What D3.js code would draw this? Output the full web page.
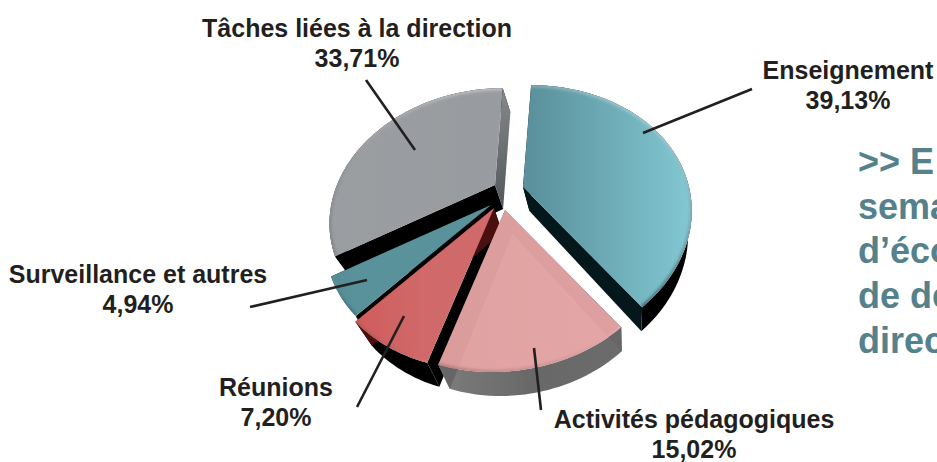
<!DOCTYPE html>
<html>
<head>
<meta charset="utf-8">
<script src="https://cdn.jsdelivr.net/npm/d3@7"></script>
<style>
html, body { margin: 0; padding: 0; background: #fff; overflow: hidden; }
text { font-family: "Liberation Sans", Arial, sans-serif; font-weight: bold; }
</style>
</head>
<body>
<div id="chart"></div>
<script>
const categories = ["Enseignement", "Activités pédagogiques", "Réunions", "Surveillance et autres", "Tâches liées à la direction"];
const shares = [39.13, 15.02, 7.20, 4.94, 33.71];
const noteLines = [">> E", "sema", "d’éco", "de de", "direc"];

const width = 937, height = 462;

// apex of each slice on the page, the pie is exploded
const apex = [[523, 187], [505, 210], [494, 208], [491, 205], [495, 185]];
const radii = [166, 162, 162, 158, 158];
const squash = 0.76, persp = 0.24, shear = -0.08;
const depthY = 24, vanishX = 630, vanishK = 0.06;

const style = [
    { top: ["#5a919c", "#82c8d3"], rim: ["#c5eef4", "#0f3a42"], outer: "#000", start: "#000", end: "#04181c" },
    { top: ["#e09e9e", "#e2a2a2"], rim: ["#e6aaaa", "#b07a7a"], outer: "url(#wallPink)", start: "#666", end: "#666" },
    { top: ["#d05c5c", "#d06a6a"], rim: ["#e08080", "#a04848"], outer: "#000", start: "#000", end: "#4a1010" },
    { top: ["#548a94", "#5a929c"], rim: ["#70a8b0", "#2f5f68"], outer: "#000", start: "#000", end: "#000" },
    { top: ["#9b9ea1", "#989b9f"], rim: ["#c4c7c9", "#808386"], outer: "#000", start: "#000", end: "url(#wallGray)" }
];

const svg = d3.select("#chart").append("svg")
    .attr("width", width)
    .attr("height", height);
const defs = svg.append("defs");

defs.append("filter").attr("id", "soft")
    .attr("x", "-10%").attr("y", "-10%").attr("width", "120%").attr("height", "120%")
    .append("feGaussianBlur").attr("stdDeviation", 1.6);

function addGradient(id, stops, x1, y1, x2, y2) {
    const g = defs.append("linearGradient").attr("id", id)
        .attr("gradientUnits", "userSpaceOnUse")
        .attr("x1", x1).attr("y1", y1).attr("x2", x2).attr("y2", y2);
    stops.forEach((c, i) => g.append("stop").attr("offset", i / (stops.length - 1)).attr("stop-color", c));
}
addGradient("wallPink", ["#7c7c7c", "#686868", "#6c6c6c"], 440, 0, 625, 0);
addGradient("wallGray", ["#868a8d", "#51575a"], 0, 85, 0, 210);

const pie = d3.pie().sort(null).value(d => d);
const arcs = pie(shares);

// circle point -> page, flat pie seen in perspective
function project(i, angle) {
    const u = Math.sin(angle), v = -Math.cos(angle);
    const w = 1 - persp * v;
    const y = radii[i] * squash * v / w;
    return [apex[i][0] + radii[i] * u / w + shear * y, apex[i][1] + y];
}
const sink = p => [p[0] + (vanishX - p[0]) * vanishK, p[1] + depthY];
const line = d3.line();

function rimPoints(i, a) {
    const n = Math.ceil((a.endAngle - a.startAngle) / 0.03);
    return d3.range(n + 1).map(k => project(i, a.startAngle + (a.endAngle - a.startAngle) * k / n));
}

const pieG = svg.append("g");

// back to front, the pink slice sits over the red wall
[4, 3, 2, 1, 0].forEach(i => {
    const a = arcs[i], s = style[i];
    const rim = rimPoints(i, a);
    const g = pieG.append("g");

    g.append("path")
        .attr("d", line(rim.concat(rim.map(sink).reverse())) + "Z")
        .attr("fill", s.outer);
    [[rim[0], s.start], [rim[rim.length - 1], s.end]].forEach(([p, fill]) => {
        g.append("path")
            .attr("d", line([apex[i], p, sink(p), sink(apex[i])]) + "Z")
            .attr("fill", fill);
    });

    const xs = d3.extent(rim, d => d[0]);
    const ys = d3.extent(rim, d => d[1]);
    addGradient("top" + i, s.top, xs[0], 0, xs[1], 0);
    addGradient("rim" + i, s.rim, xs[1], ys[0], xs[0], ys[1]);

    const outline = line([apex[i]].concat(rim)) + "Z";
    defs.append("clipPath").attr("id", "clip" + i).append("path").attr("d", outline);
    g.append("path")
        .attr("d", outline)
        .attr("fill", "url(#top" + i + ")")
        .attr("fill-opacity", i === 1 ? 0.96 : 1);
    g.append("g").attr("clip-path", "url(#clip" + i + ")")
        .append("path")
        .attr("d", line(rim))
        .attr("fill", "none")
        .attr("stroke", "url(#rim" + i + ")")
        .attr("stroke-width", 4)
        .attr("filter", "url(#soft)");
});

// leaders and labels, same order as categories
const leaders = [
    [[643, 133], [752, 89]],
    [[534, 348], [541, 410]],
    [[404, 316], [357, 407]],
    [[367, 280], [250, 307]],
    [[415, 150], [366, 80]]
];
const labelPos = [[848, 79], [694, 428], [276, 396], [138, 283], [357, 37]];

svg.append("g").selectAll("path")
    .data(leaders)
    .enter()
    .append("path")
    .attr("d", d => line(d))
    .attr("fill", "none")
    .attr("stroke", "#231f20")
    .attr("stroke-width", 2.6);

const fmt = v => v.toFixed(2).replace(".", ",") + "%";
const labels = svg.append("g").selectAll("text")
    .data(categories)
    .enter()
    .append("text")
    .attr("text-anchor", "middle")
    .attr("font-size", 25)
    .attr("fill", "#231f20");
labels.append("tspan")
    .attr("x", (d, i) => labelPos[i][0])
    .attr("y", (d, i) => labelPos[i][1])
    .text(d => d);
labels.append("tspan")
    .attr("x", (d, i) => labelPos[i][0])
    .attr("y", (d, i) => labelPos[i][1] + 30)
    .text((d, i) => fmt(shares[i]));

svg.append("g").selectAll("text")
    .data(noteLines)
    .enter()
    .append("text")
    .attr("x", 858)
    .attr("y", (d, i) => 174 + i * 44.7)
    .attr("font-size", 36)
    .attr("fill", "#54818c")
    .text(d => d);
</script>
</body>
</html>
